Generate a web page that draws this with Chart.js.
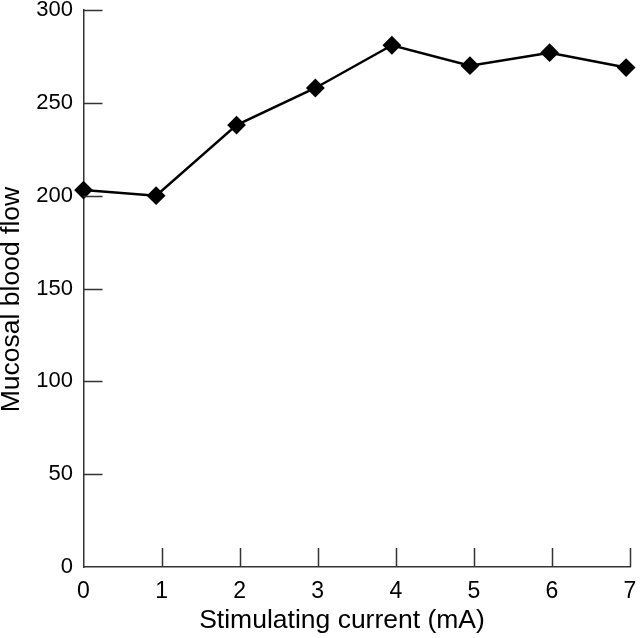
<!DOCTYPE html>
<html>
<head>
<meta charset="utf-8">
<script src="https://cdn.jsdelivr.net/npm/chart.js@4/dist/chart.umd.min.js"></script>
<style>
  html, body { margin: 0; padding: 0; background: #fff; }
  #wrap { width: 640px; height: 638px; }
</style>
</head>
<body>
<div id="wrap"><canvas id="flowChart" width="640" height="638"></canvas></div>
<script>
// values
const currentMA = [0, 0.93, 1.96, 2.97, 3.95, 4.95, 5.97, 6.95];
const bloodFlow = [203, 200, 238, 258, 281, 270, 277, 269];
const xTicks = [0, 1, 2, 3, 4, 5, 6, 7];
const yTicks = [0, 50, 100, 150, 200, 250, 300];

const FONT = "'Liberation Sans', Arial, Helvetica, sans-serif";
const AXIS = "#333";

// short tick marks drawn inward from each axis line
const innerTicks = {
    id: "innerTicks",
    afterDraw(chart) {
        let ctx = chart.ctx;
        let xs = chart.scales.x, ys = chart.scales.y;
        let len = 19;
        ctx.save();
        ctx.strokeStyle = AXIS;
        ctx.lineWidth = 1.5;
        ctx.beginPath();
        xTicks.forEach(v => {
            if (v === 0) return;
            let px = Math.round(xs.getPixelForValue(v)) + 0.5;
            ctx.moveTo(px, ys.bottom);
            ctx.lineTo(px, ys.bottom - len);
        });
        yTicks.forEach(v => {
            if (v === 0) return;
            let py = Math.round(ys.getPixelForValue(v)) + 0.5;
            ctx.moveTo(xs.left, py);
            ctx.lineTo(xs.left + len, py);
        });
        ctx.stroke();
        ctx.restore();
    }
};

// invisible outer ticks, only used to space the labels from the axis
const hiddenGrid = (len) => ({
    display: true,
    drawOnChartArea: false,
    drawTicks: true,
    tickLength: len,
    color: "rgba(0,0,0,0)"
});

let ctx = document.getElementById("flowChart").getContext("2d");
new Chart(ctx, {
    type: "line",
    data: {
        datasets: [{
            label: "Mucosal blood flow",
            data: currentMA.map((x, i) => ({ x: x, y: bloodFlow[i] })),
            borderColor: "#000",
            borderWidth: 2.5,
            backgroundColor: "#000",
            pointStyle: "rectRot",
            pointRadius: 8,
            pointBorderWidth: 2,
            pointBorderColor: "#000",
            pointBackgroundColor: "#000",
            tension: 0,
            clip: false
        }]
    },
    options: {
        responsive: false,
        animation: false,
        devicePixelRatio: 1,
        layout: { padding: { top: 7.5, right: 6, bottom: 0, left: 0 } },
        plugins: {
            legend: { display: false },
            tooltip: { enabled: false }
        },
        scales: {
            x: {
                type: "linear",
                min: 0,
                max: 7,
                afterBuildTicks: s => { s.ticks = xTicks.map(v => ({ value: v })); },
                afterFit: s => { s.height = 71; s.paddingLeft = 0; s.paddingRight = 0; },
                border: { display: true, color: AXIS, width: 1.5 },
                grid: hiddenGrid(13),
                ticks: {
                    padding: 0,
                    color: "#000",
                    maxRotation: 0,
                    font: { family: FONT, size: 23, lineHeight: 1 }
                },
                title: {
                    display: true,
                    text: "Stimulating current (mA)    ",
                    color: "#000",
                    padding: { top: 0, bottom: 4 },
                    font: { family: FONT, size: 26.5, lineHeight: 1 }
                }
            },
            y: {
                type: "linear",
                min: 0,
                max: 300,
                afterBuildTicks: s => { s.ticks = yTicks.map(v => ({ value: v })); },
                afterFit: s => { s.width = 83.5; s.paddingTop = 0; s.paddingBottom = 0; },
                border: { display: true, color: AXIS, width: 1.5 },
                grid: hiddenGrid(10.5),
                ticks: {
                    padding: 0,
                    color: "#000",
                    font: { family: FONT, size: 22, lineHeight: 0.68 }
                },
                title: {
                    display: true,
                    text: "Mucosal blood flow   ",
                    color: "#000",
                    padding: { top: 0, bottom: 0 },
                    font: { family: FONT, size: 26.5, lineHeight: 0.85 }
                }
            }
        }
    },
    plugins: [innerTicks]
});
</script>
</body>
</html>
